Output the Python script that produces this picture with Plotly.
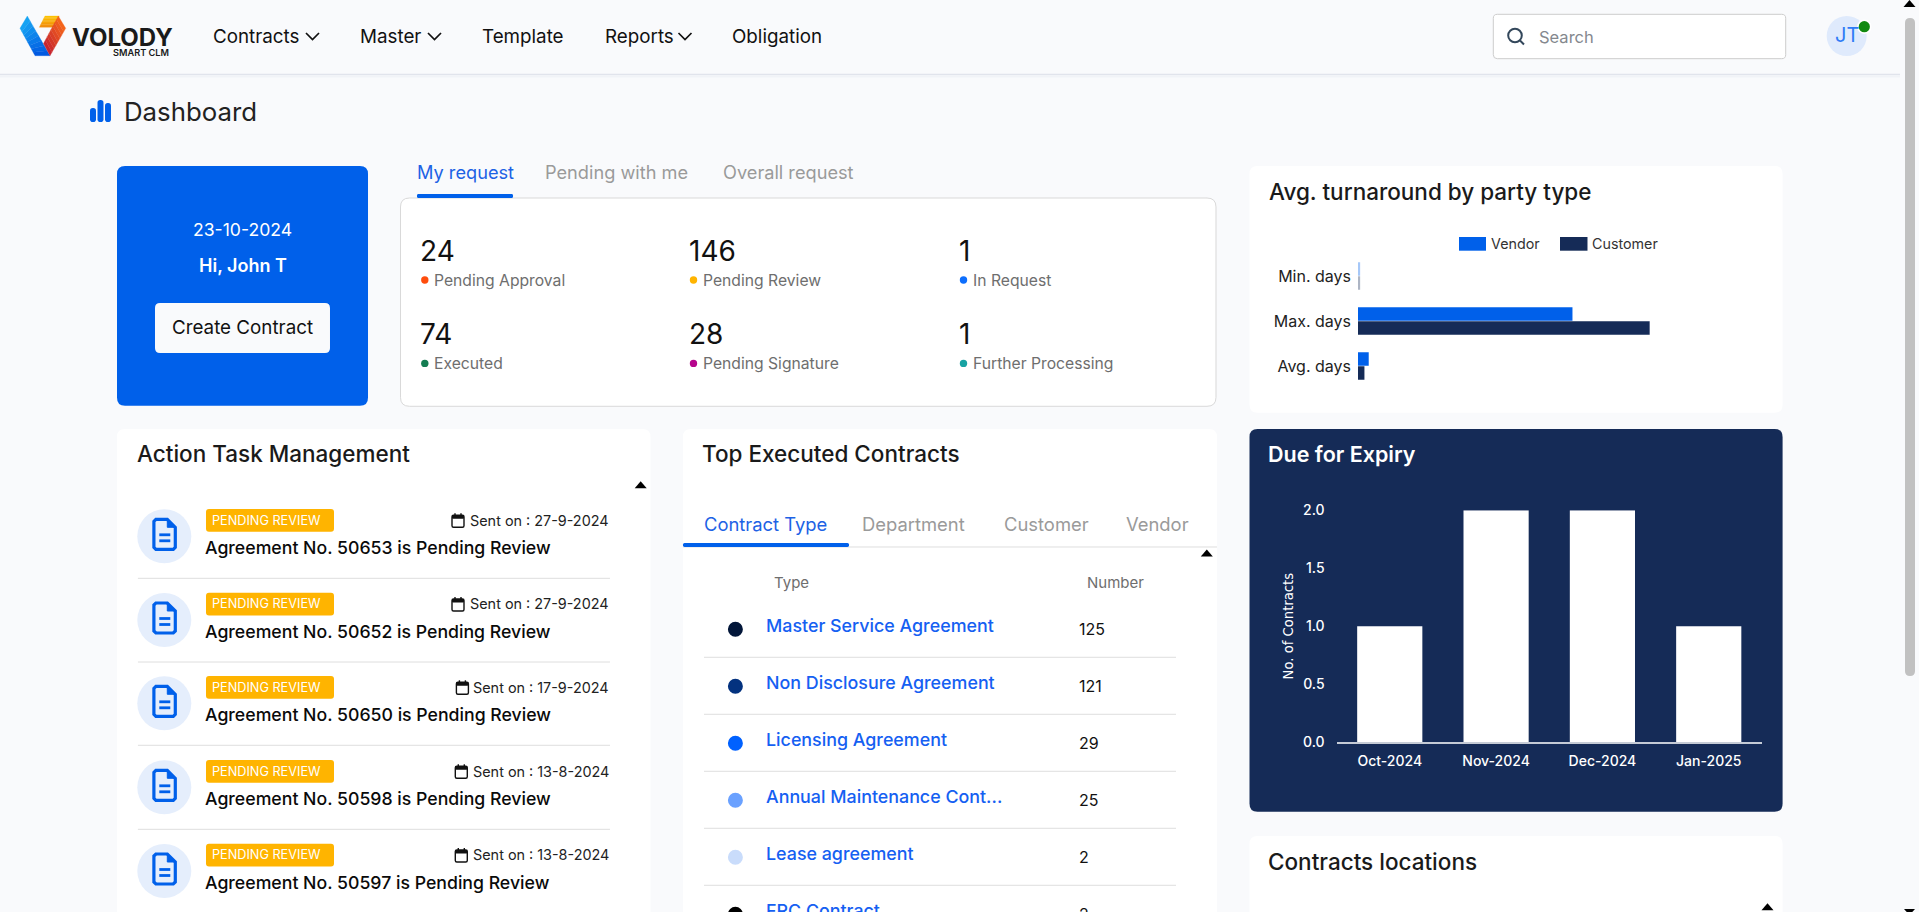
import plotly.graph_objects as go

W = 1919
H = 912
FONT = "Inter"

BLUE = "#0060EA"
NAVY = "#152B57"
PAGE = "#F9FAFC"
GREY = "#9A9A9A"
LINE = "#DEDEDE"

# data
party_categories = ["Min. days", "Max. days", "Avg. days"]
vendor_days = [1, 100, 5]
customer_days = [1, 136, 3]

expiry_months = ["Oct-2024", "Nov-2024", "Dec-2024", "Jan-2025"]
expiry_counts = [1, 2, 2, 1]

stat_values = ["24", "146", "1", "74", "28", "1"]
stat_labels = ["Pending Approval", "Pending Review", "In Request",
               "Executed", "Pending Signature", "Further Processing"]
stat_colors = ["#FF4D0D", "#FFB400", "#0D6EFD", "#147D52", "#B5068C", "#17A2A2"]

agreement_numbers = ["50653", "50652", "50650", "50598", "50597"]
sent_dates = ["27-9-2024", "27-9-2024", "17-9-2024", "13-8-2024", "13-8-2024"]

contract_types = ["Master Service Agreement", "Non Disclosure Agreement", "Licensing Agreement",
                  "Annual Maintenance Cont...", "Lease agreement", "FRC Contract"]
contract_numbers = ["125", "121", "29", "25", "2", "2"]
contract_colors = ["#021639", "#03327F", "#0061FF", "#6AA1FF", "#C9DCFB", "#000000"]

fig = go.Figure()


def px(x):
    return x / W


def py(y):
    return 1 - y / H


def text(s, x, y, size, color="#111111", weight=400, anchor="left", family=FONT):
    if anchor == "left":
        x -= 1
    fig.add_annotation(x=px(x), y=py(y), xref="paper", yref="paper", text=s, showarrow=False,
                       xanchor=anchor, yanchor="middle", borderpad=0, borderwidth=0,
                       font=dict(family=family, size=size, color=color, weight=weight))


def path(points, fill=None, stroke=None, width=0, close=True):
    d = "M " + " L ".join(f"{px(a):.5f},{py(b):.5f}" for a, b in points)
    if close:
        d += " Z"
    fig.add_shape(type="path", path=d, xref="paper", yref="paper", layer="below",
                  fillcolor=fill if fill else "rgba(0,0,0,0)",
                  line=dict(color=stroke if stroke else "rgba(0,0,0,0)", width=width))


def round_rect(x0, y0, x1, y1, r, fill, stroke=None, width=0):
    a0, a1 = px(x0), px(x1)
    b0, b1 = py(y0), py(y1)
    rx, ry = r / W, r / H
    d = (f"M {a0 + rx:.5f},{b0:.5f} L {a1 - rx:.5f},{b0:.5f} Q {a1:.5f},{b0:.5f} {a1:.5f},{b0 - ry:.5f} "
         f"L {a1:.5f},{b1 + ry:.5f} Q {a1:.5f},{b1:.5f} {a1 - rx:.5f},{b1:.5f} "
         f"L {a0 + rx:.5f},{b1:.5f} Q {a0:.5f},{b1:.5f} {a0:.5f},{b1 + ry:.5f} "
         f"L {a0:.5f},{b0 - ry:.5f} Q {a0:.5f},{b0:.5f} {a0 + rx:.5f},{b0:.5f} Z")
    fig.add_shape(type="path", path=d, xref="paper", yref="paper", layer="below", fillcolor=fill,
                  line=dict(color=stroke if stroke else "rgba(0,0,0,0)", width=width))


def circle(cx, cy, r, fill=None, stroke=None, width=0):
    fig.add_shape(type="circle", xref="paper", yref="paper", layer="below",
                  x0=px(cx - r), x1=px(cx + r), y0=py(cy + r), y1=py(cy - r),
                  fillcolor=fill if fill else "rgba(0,0,0,0)",
                  line=dict(color=stroke if stroke else "rgba(0,0,0,0)", width=width))


def hline(x0, x1, y, color=LINE, width=1):
    path([(x0, y), (x1, y)], stroke=color, width=width, close=False)


def chevron(x0, y):
    path([(x0, y - 3), (x0 + 6.5, y + 3.5), (x0 + 13, y - 3)], stroke="#111111", width=1.7, close=False)


def arrow_up(cx, y):
    path([(cx - 6, y + 3.5), (cx, y - 3.5), (cx + 6, y + 3.5)], fill="#000000")


def mix(c0, c1, t):
    a = [int(c0[i:i + 2], 16) for i in (1, 3, 5)]
    b = [int(c1[i:i + 2], 16) for i in (1, 3, 5)]
    return "rgb(" + ",".join(str(round(a[i] + (b[i] - a[i]) * t)) for i in range(3)) + ")"


def gradient_band(p0, p1, p2, p3, c0, c1, steps=8):
    # logo gradient, cut in small strips since shapes have one fill
    for i in range(steps):
        t0, t1 = i / steps, (i + 1) / steps
        s = lambda a, b, t: (a[0] + (b[0] - a[0]) * t, a[1] + (b[1] - a[1]) * t)
        path([s(p0, p3, t0), s(p1, p2, t0), s(p1, p2, t1), s(p0, p3, t1)],
             fill=mix(c0, c1, (t0 + t1) / 2), stroke=mix(c0, c1, (t0 + t1) / 2), width=0.3)


def doc_icon(cx, cy):
    x0, x1 = cx - 10.4, cx + 11
    y0, y1 = cy - 17, cy + 13
    path([(x0 + 2, y0), (x1 - 8, y0), (x1, y0 + 8), (x1, y1 - 2), (x1 - 2, y1), (x0 + 2, y1),
          (x0, y1 - 2), (x0, y0 + 2)], stroke=BLUE, width=3.2)
    path([(x1 - 8, y0), (x1, y0 + 8), (x1 - 8, y0 + 8)], fill=BLUE, stroke=BLUE, width=1)
    hline(cx - 5, cx + 6, cy - 1.5, BLUE, 2.8)
    hline(cx - 5, cx + 6, cy + 4.5, BLUE, 2.8)


def calendar_icon(x0, y0):
    round_rect(x0, y0 + 2, x0 + 12, y0 + 14, 1.5, "rgba(0,0,0,0)", "#111111", 1.4)
    round_rect(x0, y0 + 2, x0 + 12, y0 + 5.5, 1, "#111111")
    path([(x0 + 3, y0), (x0 + 3, y0 + 3)], stroke="#111111", width=1.4, close=False)
    path([(x0 + 9, y0), (x0 + 9, y0 + 3)], stroke="#111111", width=1.4, close=False)


def draw_header():
    gradient_band((27.3, 16), (20, 28.3), (35, 55.7), (50, 55.7), "#18A8F4", "#0055E0")
    gradient_band((45, 16), (59.3, 16), (53.3, 27.3), (39.3, 27.3), "#FFC800", "#F08A10")
    gradient_band((58.3, 16), (65.7, 28.3), (50, 55.7), (43.5, 43.5), "#F7691A", "#C4202F")
    text("VOLODY", 73, 37.7, 24, "#1A1A1A", 700)
    text("SMART CLM", 114, 53, 9.2, "#1A1A1A", 600)

    text("Contracts", 213.5, 36, 18.8)
    chevron(306, 36)
    text("Master", 361, 36, 18.8)
    chevron(428, 36)
    text("Template", 482.5, 36, 18.8)
    text("Reports", 605.5, 36, 18.8)
    chevron(678.5, 36)
    text("Obligation", 733, 36, 18.8)

    round_rect(1493.3, 14.3, 1785.7, 58.7, 4, "#FFFFFF", "#CCCCCC", 1)
    circle(1515, 35.5, 6.8, stroke="#33475B", width=2)
    path([(1520, 40.5), (1524, 44.5)], stroke="#33475B", width=2, close=False)
    text("Search", 1539.5, 37, 16.5, "#84888E")

    circle(1846.7, 36, 20, fill="#DFEAFC")
    text("JT", 1847, 35, 20, "#2E7BF6", 400, "center")
    circle(1864.3, 26.7, 7.2, fill="#FFFFFF")
    circle(1864.3, 26.7, 5.6, fill="#118A11")

    hline(0, 1900, 74.5, "#E1E4EC", 1.5)
    hline(0, 1900, 76.5, "#F1F3F7", 2)

    # page scrollbar
    round_rect(1905, 18, 1915, 676, 5, "#C1C1C1")
    path([(1903.5, 7), (1909.5, 0), (1915.5, 7)], fill="#000000")
    path([(1904, 909), (1915, 909), (1909.5, 915)], fill="#000000")

    round_rect(90, 108, 96, 122, 2.8, BLUE)
    round_rect(97.5, 100, 103.5, 122, 2.8, BLUE)
    round_rect(105, 103, 111, 122, 2.8, BLUE)
    text("Dashboard", 125, 112, 25.8, "#222222")


def draw_request_cards():
    round_rect(117, 166, 368, 405.7, 8, BLUE)
    text("23-10-2024", 242.5, 229.7, 17.6, "#FFFFFF", 400, "center")
    text("Hi, John T", 242.5, 265, 18, "#FFFFFF", 600, "center")
    round_rect(155, 303, 330, 353, 5, "#F9FAFC")
    text("Create Contract", 242.5, 327.3, 18.8, "#111111", 400, "center")

    text("My request", 417.6, 172, 18.2, "#1D62E5")
    text("Pending with me", 545.6, 172, 18.2, GREY)
    text("Overall request", 724, 172, 18.2, GREY)
    round_rect(400.5, 198, 1216, 406.3, 9, "#FFFFFF", "#D9D9D9", 1)
    round_rect(417, 194, 513, 198, 1.5, BLUE)

    col_x = [421.3, 690, 960]
    row_y = [251, 334.4]
    for i, value in enumerate(stat_values):
        x0 = col_x[i % 3]
        y0 = row_y[i // 3]
        text(value, x0, y0, 28, "#111111")
        circle(x0 + 3.5, y0 + 29, 3.7, fill=stat_colors[i])
        text(stat_labels[i], x0 + 14, y0 + 29, 15.7, "#6E6E6E")


def draw_action_card():
    round_rect(117, 429, 650.5, 930, 8, "#FFFFFF")
    text("Action Task Management", 137.5, 454, 22.5, "#1A1A1A", 500)
    arrow_up(640.7, 484.7)

    circle_y = [536.3, 620, 703.3, 787.3, 871]
    cal_x = [452, 452, 456.4, 455.3, 455.3]
    for i, number in enumerate(agreement_numbers):
        cy = circle_y[i]
        circle(164.3, cy, 27, fill="#E5EEFC")
        doc_icon(164.3, cy)
        round_rect(206, cy - 27.3, 334, cy - 4.6, 3, "#FFB400")
        text("PENDING REVIEW", 212.5, cy - 16.3, 12.7, "#FFFFFF")
        calendar_icon(cal_x[i], cy - 23)
        text("Sent on : " + sent_dates[i], 609, cy - 16.3, 14.4, "#222222", 400, "right")
        text("Agreement No. " + number + " is Pending Review", 206.4, cy + 11, 17.7, "#0A0A0A", 500)
        if i < 4:
            hline(137.9, 610, cy + 42, LINE, 1)


def draw_contracts_card():
    round_rect(682.9, 429, 1217, 930, 8, "#FFFFFF")
    text("Top Executed Contracts", 702.9, 454, 22.5, "#1A1A1A", 500)

    text("Contract Type", 704.6, 524, 18.4, "#1D62E5")
    text("Department", 863, 524, 18.4, GREY)
    text("Customer", 1004.6, 524, 18.4, GREY)
    text("Vendor", 1126.8, 524, 18.4, GREY)
    hline(683, 1217, 547, LINE, 1)
    round_rect(683, 543, 849, 547, 1.5, BLUE)
    arrow_up(1206.8, 553)

    text("Type", 774.6, 582.3, 15, "#6E6E6E")
    text("Number", 1087.9, 582.3, 15, "#6E6E6E")

    for i, name in enumerate(contract_types):
        y0 = 629.3 + 57 * i
        circle(735.4, y0, 7.5, fill=contract_colors[i])
        text(name, 766.8, y0 - 3.5, 17.85, "#1560F2", 500)
        text(contract_numbers[i], 1079.6, y0, 16, "#111111")
        if i < 5:
            hline(704, 1176, y0 + 28, LINE, 1)


def draw_right_cards():
    round_rect(1249.5, 166, 1782.6, 412.7, 8, "#FFFFFF")
    text("Avg. turnaround by party type", 1269.6, 191.5, 22.5, "#1A1A1A", 500)

    # legend
    path([(1459, 237), (1486, 237), (1486, 250.7), (1459, 250.7)], fill=BLUE)
    text("Vendor", 1491.7, 243.5, 14.3, "#333333")
    path([(1560, 237), (1587.5, 237), (1587.5, 250.7), (1560, 250.7)], fill=NAVY)
    text("Customer", 1593, 243.5, 14.3, "#333333")

    round_rect(1249.5, 429, 1782.6, 811.7, 8, NAVY)
    text("Due for Expiry", 1268.6, 454, 21.5, "#FFFFFF", 600)

    round_rect(1249.5, 836, 1782.6, 930, 8, "#FFFFFF")
    text("Contracts locations", 1268.6, 861, 22.5, "#1A1A1A", 500)
    arrow_up(1767.5, 906.7)


draw_header()
draw_request_cards()
draw_action_card()
draw_contracts_card()
draw_right_cards()

# the min. days bars are under a pixel wide in the reference, so they look pale
fig.add_trace(go.Bar(y=party_categories, x=vendor_days, orientation="h", name="Vendor",
                     marker=dict(color=BLUE, opacity=[0.35, 1, 1], line=dict(width=0)), xaxis="x", yaxis="y"))
fig.add_trace(go.Bar(y=party_categories, x=customer_days, orientation="h", name="Customer",
                     marker=dict(color=NAVY, opacity=[0.35, 1, 1], line=dict(width=0)), xaxis="x", yaxis="y"))
fig.add_trace(go.Bar(x=expiry_months, y=expiry_counts, name="Due for Expiry", width=0.613,
                     marker=dict(color="#FFFFFF", line=dict(width=0)), xaxis="x2", yaxis="y2"))

fig.update_layout(
    template="none",
    width=W, height=H, autosize=False,
    margin=dict(l=0, r=0, t=0, b=0, pad=0),
    paper_bgcolor=PAGE,
    plot_bgcolor="rgba(0,0,0,0)",
    showlegend=False,
    barmode="group",
    bargap=0.38,
    bargroupgap=0.04,
    font=dict(family=FONT),
    xaxis=dict(domain=[px(1358), px(1679.7)], range=[0, 150], visible=False, fixedrange=True,
               anchor="y", automargin=False),
    yaxis=dict(domain=[py(388.5), py(253.5)], autorange="reversed", type="category", anchor="x",
               showgrid=False, zeroline=False, showline=False, ticks="", automargin=False,
               ticklabelstandoff=6, tickfont=dict(family=FONT, size=16, color="#222222"), fixedrange=True),
    xaxis2=dict(domain=[px(1336.6), px(1761.9)], anchor="y2", showgrid=False, zeroline=False, showline=True,
                linecolor="#C5CBD6", linewidth=2, ticks="", ticklabelstandoff=5, automargin=False,
                tickfont=dict(family=FONT, size=14, color="#FFFFFF", weight=500), fixedrange=True),
    yaxis2=dict(domain=[py(742), py(510.3)], anchor="x2", range=[0, 2], dtick=0.5, tickformat=".1f",
                showgrid=False, automargin=False,
                zeroline=False, showline=False, ticks="", ticklabelstandoff=11,
                tickfont=dict(family=FONT, size=14, color="#FFFFFF", weight=500),
                title=dict(text="No. of Contracts", standoff=6,
                           font=dict(family="DejaVu Sans", size=13.2, color="#FFFFFF")),
                fixedrange=True),
)

fig.write_html("out.html", config={"displayModeBar": False},
               post_script="document.body.style.margin='0';document.body.style.overflow='hidden';")
